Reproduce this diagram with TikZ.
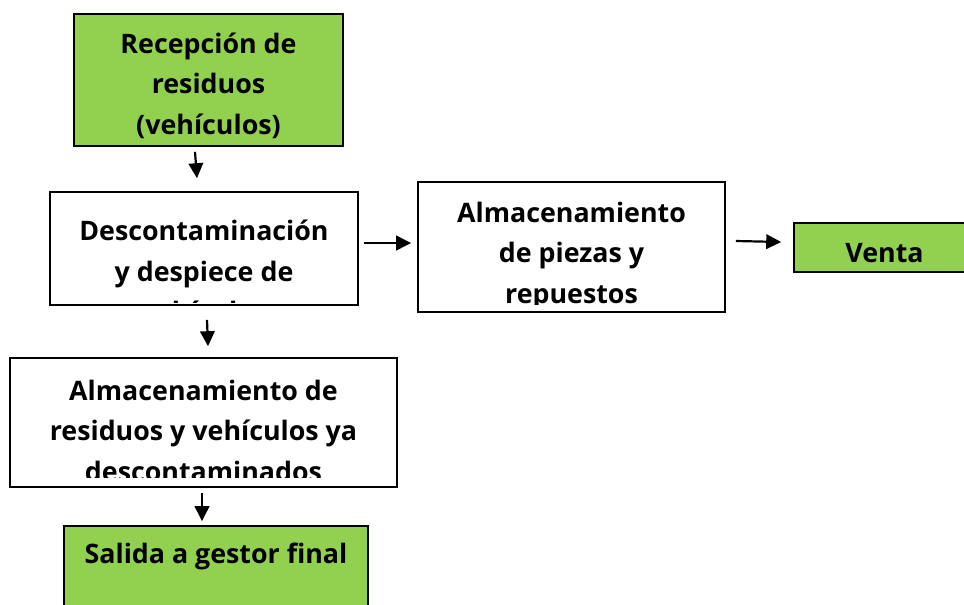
\documentclass[tikz,border=0pt]{standalone}
\usepackage{fontspec}
\setmainfont{Open Sans}
\usetikzlibrary{arrows.meta}
\definecolor{boxgreen}{HTML}{92D050}
\begin{document}
\begin{tikzpicture}[x=1pt,y=-1pt,
  box/.style={draw=black,line width=1.6pt,inner sep=0pt},
  gbox/.style={box,fill=boxgreen},
  wbox/.style={box,fill=white},
  txt/.style={anchor=north,inner sep=0pt,align=center,font=\fontsize{26.8}{40.5}\selectfont\bfseries},
  arr/.style={line width=2.2pt,-{Triangle[length=15pt,width=14.5pt]}}]
\useasboundingbox (0,0) rectangle (964,605);
\fill[white] (0,0) rectangle (964,605);
\newcommand{\fr}{\rule{0pt}{30pt}}
% boxes
\node[gbox,minimum width=269pt,minimum height=132pt] (a) at (208.5,80) {};
\node[wbox,minimum width=308pt,minimum height=113pt] (b) at (204,248.5) {};
\node[wbox,minimum width=307pt,minimum height=130pt] (c) at (571.5,247) {};
\node[gbox,minimum width=181pt,minimum height=49pt] (v) at (884.5,247.5) {};
\node[wbox,minimum width=387pt,minimum height=129pt] (d) at (203.5,422.5) {};
\node[gbox,minimum width=304pt,minimum height=115pt] (e) at (216,583.5) {};
% texts
\node[txt] (ta) at (208.5,23) {\fr Recepción de\\residuos\\(vehículos)};
\begin{scope}
\clip (50,192) rectangle (358,302);
\node[txt] (tb) at (204,210.5) {\fr Descontaminación\\y despiece de\\vehículos};
\end{scope}
\begin{scope}
\clip (418,182) rectangle (725,304);
\node[txt] (tc) at (571.5,192) {\fr Almacenamiento\\de piezas y\\repuestos};
\end{scope}
\node[txt] (tv) at (884.5,232) {\fr Venta};
\begin{scope}
\clip (10,358) rectangle (397,477);
\node[txt] (td) at (203.5,370) {\fr Almacenamiento de\\residuos y vehículos ya\\descontaminados};
\end{scope}
\node[txt] (te) at (216,533) {\fr Salida a gestor final};
% connectors
\draw[arr] ([xshift=-13.5pt,yshift=-5pt]a.south) -- ([xshift=-7pt,yshift=13pt]b.north);
\draw[arr] ([xshift=3pt,yshift=-14pt]b.south) -- ([xshift=4.5pt,yshift=11pt]d.north);
\draw[arr] ([xshift=-1.5pt,yshift=-5pt]d.south) -- ([xshift=-14pt,yshift=4pt]e.north);
\draw[arr] ([xshift=5pt,yshift=5.5pt]b.east) -- ([xshift=-6pt,yshift=4pt]c.west);
\draw[arr] ([xshift=10pt,yshift=6pt]c.east) -- ([xshift=-12pt,yshift=5.5pt]v.west);
\end{tikzpicture}
\end{document}
